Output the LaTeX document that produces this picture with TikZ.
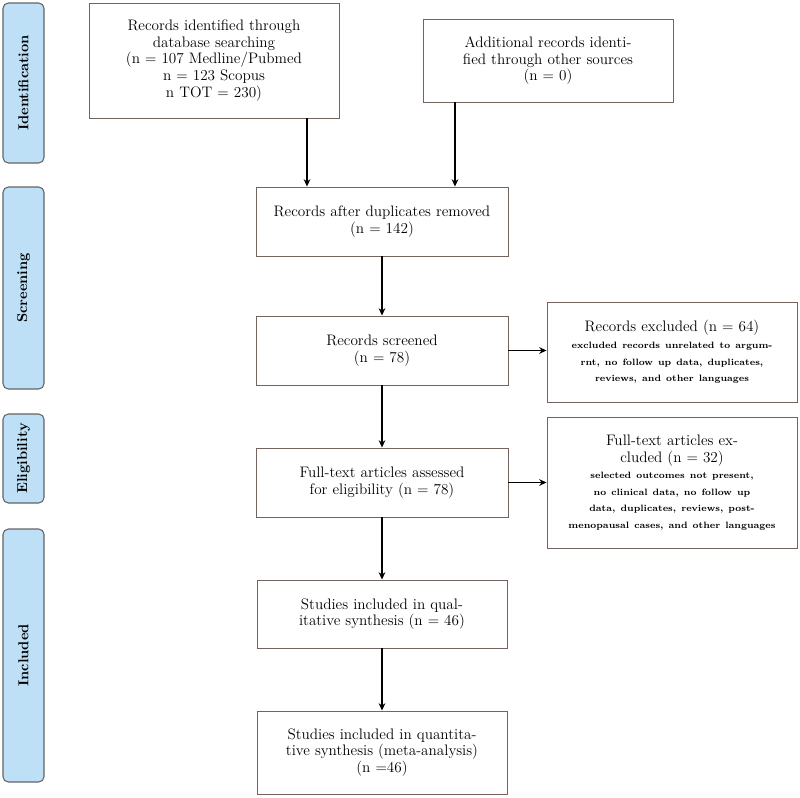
\documentclass[tikz,border=0pt]{standalone}
\usetikzlibrary{arrows.meta}
\definecolor{stagefill}{RGB}{189,224,246}
\definecolor{stageline}{RGB}{100,100,100}
\definecolor{boxline}{RGB}{115,100,95}
\newcommand{\smalltxt}{\fontsize{6.9pt}{12.4pt}\selectfont\bfseries}
\begin{document}
\begin{tikzpicture}[x=0.75pt,y=-0.75pt,
    flowbox/.style={draw=boxline, line width=0.7pt, align=center, text width=182pt,
      inner sep=2pt, minimum width=187.5pt, font=\fontsize{11.4pt}{12.4pt}\selectfont},
    stage/.style={draw=stageline, fill=stagefill, line width=0.8pt, rounded corners=4pt,
      rotate=90, minimum height=30.75pt, font=\fontsize{10.8pt}{12pt}\selectfont\bfseries,
      inner sep=0pt},
    link/.style={-{Stealth[length=5.5pt,width=5pt]}, line width=1.4pt}]
  \useasboundingbox (0,0) rectangle (800,797);
  % stages on the left
  \node[stage, minimum width=120pt]    (ident) at (23.5,83)    {Identification};
  \node[stage, minimum width=151.5pt]  (scrn)  at (23.5,288)   {Screening};
  \node[stage, minimum width=66.75pt]  (elig)  at (23.5,458.5) {Eligibility};
  \node[stage, minimum width=189.75pt] (incl)  at (23.5,655.5) {Included};
  % identification
  \node[flowbox, minimum height=86.25pt] (rec) at (214,60.5)
    {Records identified through\\ database searching\\ (n $=$ 107 Medline/Pubmed\\
     n $=$ 123 Scopus\\ n TOT $=$ 230)};
  \node[flowbox, minimum height=62.25pt] (add) at (548,60.5)
    {Additional records identi-\\ fied through other sources\\ (n $=$ 0)};
  % screening
  \node[flowbox, minimum width=189pt, minimum height=51.75pt] (dup) at (382,221.5)
    {Records after duplicates removed\\ (n $=$ 142)};
  \node[flowbox, minimum width=189pt, minimum height=51.75pt] (screen) at (382,350.5)
    {Records screened\\ (n $=$ 78)};
  \node[flowbox, minimum height=75pt] (excl) at (672,352)
    {Records excluded (n $=$ 64)\\ {\smalltxt excluded records unrelated to argum-\\
     rnt, no follow up data, duplicates,\\ reviews, and other languages}};
  % eligibility
  \node[flowbox, minimum width=189pt, minimum height=51.75pt] (full) at (382,482.5)
    {Full-text articles assessed\\ for eligibility (n $=$ 78)};
  \node[flowbox, minimum height=98.25pt] (fexcl) at (672,482.5)
    {Full-text articles ex-\\ cluded (n $=$ 32)\\ {\smalltxt selected outcomes not present,\\
     no clinical data, no follow up\\ data, duplicates, reviews, post-\\
     menopausal cases, and other languages}};
  % included
  \node[flowbox, minimum height=51pt] (qual) at (382,614)
    {Studies included in qual-\\ itative synthesis (n $=$ 46)};
  \node[flowbox, minimum height=62.25pt] (quant) at (382,752.5)
    {Studies included in quantita-\\ tive synthesis (meta-analysis)\\ (n $=$46)};
  % arrows
  \draw[link] ([xshift=69.75pt]rec.south) -- ([xshift=69.75pt]rec.south |- dup.north);
  \draw[link] ([xshift=-69.75pt]add.south) -- ([xshift=-69.75pt]add.south |- dup.north);
  \draw[link] (dup) -- (screen);
  \draw[link] (screen.east) -- (screen.east -| excl.west);
  \draw[link] (screen) -- (full);
  \draw[link] (full.east) -- (full.east -| fexcl.west);
  \draw[link] (full) -- (qual);
  \draw[link] (qual) -- (quant);
\end{tikzpicture}
\end{document}
